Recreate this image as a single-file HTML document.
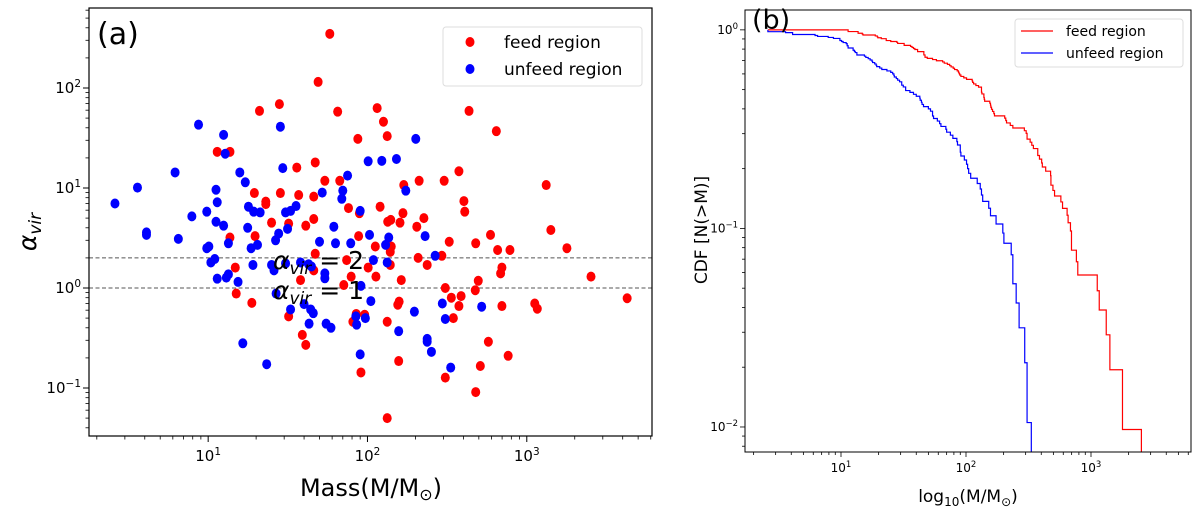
<!DOCTYPE html>
<html><head><meta charset="utf-8"><style>
html,body{margin:0;padding:0;background:#fff;}
svg{display:block;font-family:"DejaVu Sans","Liberation Sans",sans-serif;}
</style></head><body>
<svg id="chart" width="1200" height="517" viewBox="0 0 1200 517" xmlns="http://www.w3.org/2000/svg"></svg>
<script>
// Panel (a) data: feed region (mass, alpha_vir)
const feedMass = [58,49,28,21,65,115,126,133,87,434,644,11.4,13.7,36,47,54,67,375,169,211,303,1324,19.5,28.4,37,46,23,23,403,408,76,89,120,167,134,140,160,226,204,46,25,32,41,13.7,19.7,88,592,1416,478,326,112,141,139,656,784,1786,293,208,47,237,46,38,14.8,74,79,101,113,139,163,698,685,496,2530,308,475,71,4266,15,18.8,336,387,375,698,1122,1164,155,158,346,32,85,96,81,133,39,41,574,764,157,91,511,308,478,133];
const feedAlpha = [348,115,69,59,58,63,46,33,31,59,37,23,23,16,18,11.8,11.8,14.7,10.7,11.8,11.8,10.7,8.9,8.9,8.5,8.2,7.3,6.9,7.4,5.8,6.3,5.6,6.5,5.6,4.6,4.8,4.5,5.0,4.1,4.9,4.5,4.4,4.2,3.2,3.3,3.3,3.4,3.8,2.8,2.9,2.6,2.6,2.3,2.4,2.4,2.5,2.1,2.0,2.2,1.7,1.5,1.2,1.6,1.9,1.3,1.6,1.3,1.7,1.2,1.6,1.4,1.18,1.3,1.0,0.95,1.07,0.79,0.88,0.71,0.80,0.83,0.66,0.66,0.70,0.62,0.68,0.73,0.50,0.52,0.55,0.54,0.46,0.46,0.34,0.27,0.29,0.21,0.186,0.143,0.166,0.127,0.091,0.050];
// unfeed region
const unfeedMass = [8.7,28.4,12.5,12.8,201,101,123,152,29.4,6.2,15.8,3.6,17.1,75,11.2,70,52,174,2.6,11.4,69,17.9,19.3,21.2,9.8,35.6,32.9,30.6,90,7.9,11.2,12.5,4.1,4.1,6.5,17.7,61.5,31.5,27.7,26.5,103,136,230,13.4,50,63,78.5,9.8,10.1,18.6,20.4,130,11.0,10.4,19.1,25,25.9,30.6,38,42.7,44.5,109,133,266,54,54,11.4,13,13.4,15.4,91,26.7,105,32.9,40,44,45.7,43,55,59,84.5,85.5,97,197,295,521,308,157,237,237,252,16.5,23.3,90,333];
const unfeedAlpha = [43,41,34,22,31,18.5,18.7,19.5,15.8,14.3,14.3,10.1,11.4,13.3,9.6,9.4,9.0,9.4,7.0,7.2,7.8,6.5,5.8,5.7,5.8,6.6,5.9,5.7,5.9,5.2,4.6,4.2,3.6,3.4,3.1,4.0,4.1,3.9,3.5,3.0,3.4,3.2,3.3,2.8,2.9,2.8,2.8,2.5,2.6,2.5,2.7,2.7,1.95,1.8,1.7,1.7,1.5,1.76,1.8,1.73,1.64,1.9,1.8,2.1,1.4,1.25,1.24,1.27,1.37,1.15,1.05,0.88,0.74,0.61,0.69,0.61,0.56,0.44,0.44,0.40,0.52,0.43,0.50,0.58,0.70,0.65,0.49,0.37,0.31,0.29,0.23,0.28,0.173,0.217,0.160];
const xTickLabels = ["10","10","10"];
const xTickExps = [1,2,3];
const yTickExpsA = [-1,0,1,2];
const yTickExpsB = [-2,-1,0];
const refLines = [2,1];

const NS="http://www.w3.org/2000/svg";
const svg=document.getElementById('chart');
function mk(tag,attrs,parent){const e=document.createElementNS(NS,tag);for(const k in attrs)e.setAttribute(k,attrs[k]);(parent||svg).appendChild(e);return e;}
function logScale(d0,d1,r0,r1){return v=>r0+(Math.log10(v)-d0)/(d1-d0)*(r1-r0);}

// ---------- Panel A ----------
const A={l:89,r:652,t:8,b:436};
const ax=logScale(0.252,3.786,A.l,A.r);
const ay=logScale(-1.48,2.80,A.b,A.t);
const gA=mk('g',{});


function ticks(g,xs,ys,box,xLo,xHi,yLo,yHi){
  for(let e=Math.floor(xLo);e<=Math.ceil(xHi);e++){for(let m=1;m<10;m++){const v=m*Math.pow(10,e);const lv=Math.log10(v);if(lv<xLo||lv>xHi)continue;const px=xs(v);const len=m===1?6:3.5;mk('line',{x1:px,x2:px,y1:box.b,y2:box.b+len,stroke:'#000','stroke-width':m===1?1:0.8},g);}}
  for(let e=Math.floor(yLo);e<=Math.ceil(yHi);e++){for(let m=1;m<10;m++){const v=m*Math.pow(10,e);const lv=Math.log10(v);if(lv<yLo||lv>yHi)continue;const py=ys(v);const len=m===1?6:3.5;mk('line',{x1:box.l,x2:box.l-len,y1:py,y2:py,stroke:'#000','stroke-width':m===1?1:0.8},g);}}
}
ticks(gA,ax,ay,A,0.252,3.786,-1.48,2.80);
xTickExps.forEach((e,i)=>{const t=mk('text',{x:ax(Math.pow(10,e)),y:A.b+25,'font-size':15,'text-anchor':'middle'},gA);t.innerHTML=xTickLabels[i]+'<tspan dy="-6" font-size="10.5">'+e+'</tspan>';});
yTickExpsA.forEach(e=>{const t=mk('text',{x:A.l-8,y:ay(Math.pow(10,e))+5,'font-size':15,'text-anchor':'end'},gA);t.innerHTML='10<tspan dy="-6" font-size="10.5">'+(e<0?'−'+(-e):e)+'</tspan>';});
refLines.forEach(v=>{const l=mk('line',{x1:A.l,x2:A.r,y1:ay(v),y2:ay(v),stroke:'#555','stroke-width':1,'stroke-dasharray':'4,2.5'},gA);});
feedMass.forEach((m,i)=>{const c=mk('ellipse',{cx:ax(m),cy:ay(feedAlpha[i]),rx:4.5,ry:5,fill:'#ff0000'},gA);});
unfeedMass.forEach((m,i)=>{const c=mk('ellipse',{cx:ax(m),cy:ay(unfeedAlpha[i]),rx:4.5,ry:5,fill:'#0000ff'},gA);});
refLines.forEach(v=>{const t=mk('text',{x:273,y:ay(v)+11,'font-size':25,fill:'#000'},gA);t.innerHTML='<tspan font-style="italic">α</tspan><tspan font-size="17" dy="5" font-style="italic">vir</tspan><tspan dy="-5"> = '+v+'</tspan>';});
mk('rect',{x:A.l,y:A.t,width:A.r-A.l,height:A.b-A.t,fill:'none',stroke:'#000','stroke-width':1.2},gA);
</script>
<script>
// ---------- Panel A static text & legend ----------
(function(){
const svg=document.getElementById('chart');
const NS="http://www.w3.org/2000/svg";
function mk(tag,attrs,inner){const e=document.createElementNS(NS,tag);for(const k in attrs)e.setAttribute(k,attrs[k]);if(inner)e.innerHTML=inner;svg.appendChild(e);return e;}
let e;
e=mk('text',{x:97,y:44,'font-size':30},'(a)');
e=mk('rect',{x:443,y:27,width:199,height:59,rx:3,fill:'#fff',stroke:'#ddd'});
e=mk('ellipse',{cx:470,cy:42,rx:4.5,ry:5,fill:'#f00'});
e=mk('text',{x:504,y:48,'font-size':17},'feed region');
e=mk('ellipse',{cx:470,cy:69,rx:4.5,ry:5,fill:'#00f'});
e=mk('text',{x:504,y:75,'font-size':17},'unfeed region');
e=mk('text',{x:371,y:496,'font-size':24,'text-anchor':'middle'},'Mass(M/M<tspan font-size="16" dy="4">⊙</tspan><tspan dy="-4">)</tspan>');
e=mk('text',{x:0,y:0,'font-size':25,'text-anchor':'middle',transform:'translate(36,232) rotate(-90)'},'<tspan font-style="italic">α</tspan><tspan font-size="17" dy="5" font-style="italic">vir</tspan>');
})();

// ---------- Panel B ----------
(function(){
const svg=document.getElementById('chart');
const NS="http://www.w3.org/2000/svg";
function mk(tag,attrs,parent){const e=document.createElementNS(NS,tag);for(const k in attrs)e.setAttribute(k,attrs[k]);(parent||svg).appendChild(e);return e;}
function logScale(d0,d1,r0,r1){return v=>r0+(Math.log10(v)-d0)/(d1-d0)*(r1-r0);}
const B={l:745,r:1191,t:10,b:452};
const bx=logScale(0.232,3.80,B.l,B.r);
const by=logScale(-2.126,0.10,B.b,B.t);
const g=mk('g',{});


for(let e=0;e<=4;e++){for(let m=1;m<10;m++){const v=m*Math.pow(10,e);const lv=Math.log10(v);if(lv<0.232||lv>3.8)continue;const px=bx(v);mk('line',{x1:px,x2:px,y1:B.b,y2:B.b+(m===1?5:3),stroke:'#000','stroke-width':0.8},g);}}
for(let e=-3;e<=0;e++){for(let m=1;m<10;m++){const v=m*Math.pow(10,e);const lv=Math.log10(v);if(lv<-2.126||lv>0.1)continue;const py=by(v);mk('line',{x1:B.l,x2:B.l-(m===1?5:3),y1:py,y2:py,stroke:'#000','stroke-width':0.8},g);}}
xTickExps.forEach((e,i)=>{const t=mk('text',{x:bx(Math.pow(10,e)),y:B.b+20,'font-size':12,'text-anchor':'middle'},g);t.innerHTML=xTickLabels[i]+'<tspan dy="-5" font-size="8.5">'+e+'</tspan>';});
yTickExpsB.forEach(e=>{const t=mk('text',{x:B.l-7,y:by(Math.pow(10,e))+4,'font-size':12,'text-anchor':'end'},g);t.innerHTML='10<tspan dy="-5" font-size="8.5">'+(e<0?'−'+(-e):e)+'</tspan>';});
const clip=mk('clipPath',{id:'clipB'},g);mk('rect',{x:B.l,y:B.t,width:B.r-B.l,height:B.b-B.t},clip);
const startM=Math.min(Math.min.apply(null,feedMass),Math.min.apply(null,unfeedMass));
function cdfPath(arr){const s=arr.slice().sort((a,b)=>a-b);const N=s.length;let d='M'+bx(startM)+','+by(1);let cur=1;
  for(let i=0;i<N-1;i++){d+=' L'+bx(s[i])+','+by(cur);const yn=(N-2-i)/N;d+=' L'+bx(s[i])+','+(yn>0?by(yn):B.b+5);cur=yn;if(yn<=0)break;}
  return d;}
let p=mk('path',{d:cdfPath(feedMass),fill:'none',stroke:'#ff0000','stroke-width':1.2,'clip-path':'url(#clipB)'},g);


p=mk('path',{d:cdfPath(unfeedMass),fill:'none',stroke:'#0000ff','stroke-width':1.2,'clip-path':'url(#clipB)'},g);


mk('rect',{x:B.l,y:B.t,width:B.r-B.l,height:B.b-B.t,fill:'none',stroke:'#000','stroke-width':1},g);
let t=mk('text',{x:752,y:29,'font-size':27},g);t.textContent='(b)';


let r=mk('rect',{x:1015,y:19,width:168,height:48,rx:3,fill:'#fff',stroke:'#ddd'},g);


let l=mk('line',{x1:1021,x2:1053,y1:31,y2:31,stroke:'#f00','stroke-width':1.3},g);


t=mk('text',{x:1066,y:36,'font-size':14},g);t.textContent='feed region';


l=mk('line',{x1:1021,x2:1053,y1:53,y2:53,stroke:'#00f','stroke-width':1.3},g);


t=mk('text',{x:1066,y:58,'font-size':14},g);t.textContent='unfeed region';


t=mk('text',{x:968,y:502,'font-size':17,'text-anchor':'middle'},g);t.innerHTML='log<tspan font-size="12" dy="4">10</tspan><tspan dy="-4">(M/M</tspan><tspan font-size="12" dy="4">⊙</tspan><tspan dy="-4">)</tspan>';


t=mk('text',{x:0,y:0,'font-size':17,'text-anchor':'middle',transform:'translate(707,230) rotate(-90)'},g);t.textContent='CDF [N(>M)]';


})();
</script>
</body></html>
